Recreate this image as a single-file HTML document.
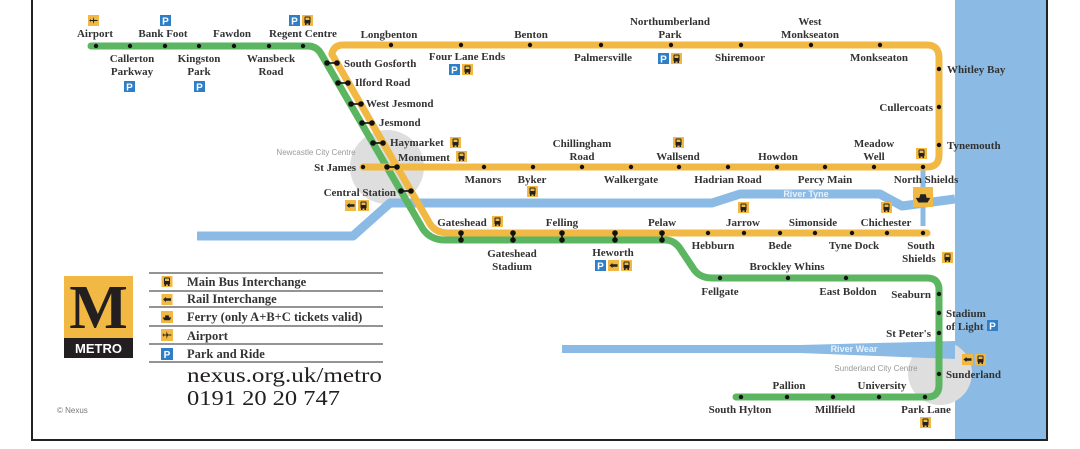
<!DOCTYPE html>
<html><head><meta charset="utf-8"><style>
html,body{margin:0;padding:0;background:#fff;}
svg{display:block;}
.t{font-family:"Liberation Serif","DejaVu Serif",serif;font-weight:bold;font-size:11px;fill:#333;}
.m{text-anchor:middle;}
.e{text-anchor:end;}
.g{font-family:"Liberation Sans",sans-serif;font-size:8px;fill:#999;text-anchor:middle;}
.w{font-family:"Liberation Sans",sans-serif;font-size:9px;fill:#e8f2fb;text-anchor:middle;font-weight:bold;}
.lg{font-family:"Liberation Serif","DejaVu Serif",serif;font-weight:bold;font-size:12.5px;fill:#333;}
</style></head><body>
<svg width="1080" height="449" viewBox="0 0 1080 449" xmlns="http://www.w3.org/2000/svg">
<defs>
<symbol id="bus" viewBox="0 0 11 11"><rect width="11" height="11" fill="#f2b844"/><rect x="2.5" y="1.5" width="6" height="7" rx="1" fill="#222"/><rect x="3.5" y="2.5" width="4" height="2.5" fill="#f2b844"/><rect x="3" y="8.5" width="1.5" height="1.5" fill="#222"/><rect x="6.5" y="8.5" width="1.5" height="1.5" fill="#222"/></symbol>
<symbol id="rail" viewBox="0 0 11 11"><rect width="11" height="11" fill="#f2b844"/><path d="M1.5 5.5 L4.5 3 V4.3 H9.5 V6.7 H4.5 V8 Z" fill="#222"/></symbol>
<symbol id="plane" viewBox="0 0 11 11"><rect width="11" height="11" fill="#f2b844"/><path d="M1.5 5 H9.5 V6 H1.5 Z M5 2 L6.5 5.5 L5 9 Z M2 3.5 L3 5.5 L2 7.5Z" fill="#222"/></symbol>
<symbol id="ferry" viewBox="0 0 11 11"><rect width="11" height="11" fill="#f2b844"/><path d="M1.5 6 H9.5 L8 8.5 H3 Z M4 4 H7 L7.5 6 H3.5 Z" fill="#222"/></symbol>
</defs>

<!-- sea and frame -->
<rect x="955" y="0" width="92" height="440" fill="#8bbbe5"/>
<path d="M32 0 V440 H1047 V0" fill="none" stroke="#222" stroke-width="2"/>

<!-- city centre circles -->
<circle cx="387" cy="167" r="37" fill="#dedede"/>
<circle cx="940" cy="373" r="32" fill="#dedede"/>

<!-- rivers -->
<path d="M197 236 H353 L390 203 H712 L740 194 H880 L902 206 L955 199" fill="none" stroke="#8bbbe5" stroke-width="9" stroke-linejoin="round"/>
<path d="M923 170 V226" stroke="#8bbbe5" stroke-width="5"/>
<path d="M562 345 L800 345 L955 341 L955 359 L800 353 L562 353 Z" fill="#8bbbe5"/>
<text class="w" x="806" y="197">River Tyne</text>
<text class="w" x="854" y="352">River Wear</text>
<text class="g" x="316" y="155">Newcastle City Centre</text>
<text class="g" x="876" y="371">Sunderland City Centre</text>

<!-- green line -->
<path d="M91 46 H308 Q316 46 320.6 53 L420.6 225 Q428 240 445 240 H665 Q675 240 681 250 L693 268 Q699 278 712 278 H927 Q939 278 939 290 V385 Q939 397 927 397 H736" fill="none" stroke="#5bb561" stroke-width="7" stroke-linecap="round" stroke-linejoin="round"/>
<!-- yellow line -->
<path d="M363 167 H927 Q939 167 939 155 V58 Q939 45 927 45 H343 Q334 45 331.8 54 L428.3 221 Q434 233 448 233 H927" fill="none" stroke="#f2b844" stroke-width="7" stroke-linecap="round" stroke-linejoin="round"/>

<!-- dots -->
<g fill="#111">
<circle cx="96" cy="46" r="2.2"/><circle cx="130" cy="46" r="2.2"/><circle cx="165" cy="46" r="2.2"/><circle cx="199" cy="46" r="2.2"/><circle cx="234" cy="46" r="2.2"/><circle cx="269" cy="46" r="2.2"/><circle cx="303" cy="46" r="2.2"/>
<circle cx="391" cy="45" r="2.2"/><circle cx="461" cy="45" r="2.2"/><circle cx="530" cy="45" r="2.2"/><circle cx="601" cy="45" r="2.2"/><circle cx="671" cy="45" r="2.2"/><circle cx="741" cy="45" r="2.2"/><circle cx="811" cy="45" r="2.2"/><circle cx="880" cy="45" r="2.2"/>
<circle cx="939" cy="69" r="2.2"/><circle cx="939" cy="107" r="2.2"/><circle cx="939" cy="145" r="2.2"/>
<circle cx="363" cy="167" r="2.2"/><circle cx="484" cy="167" r="2.2"/><circle cx="533" cy="167" r="2.2"/><circle cx="582" cy="167" r="2.2"/><circle cx="631" cy="167" r="2.2"/><circle cx="679" cy="167" r="2.2"/><circle cx="728" cy="167" r="2.2"/><circle cx="777" cy="167" r="2.2"/><circle cx="825" cy="167" r="2.2"/><circle cx="874" cy="167" r="2.2"/><circle cx="923" cy="167" r="2.2"/>
<circle cx="708" cy="233" r="2.2"/><circle cx="744" cy="233" r="2.2"/><circle cx="780" cy="233" r="2.2"/><circle cx="815" cy="233" r="2.2"/><circle cx="852" cy="233" r="2.2"/><circle cx="887" cy="233" r="2.2"/><circle cx="923" cy="233" r="2.2"/>
<circle cx="720" cy="278" r="2.2"/><circle cx="788" cy="278" r="2.2"/><circle cx="846" cy="278" r="2.2"/>
<circle cx="939" cy="294" r="2.2"/><circle cx="939" cy="313" r="2.2"/><circle cx="939" cy="333" r="2.2"/><circle cx="939" cy="374" r="2.2"/>
<circle cx="741" cy="397" r="2.2"/><circle cx="787" cy="397" r="2.2"/><circle cx="833" cy="397" r="2.2"/><circle cx="879" cy="397" r="2.2"/><circle cx="925" cy="397" r="2.2"/>
</g>
<!-- ties -->
<g stroke="#111" stroke-width="1.6" fill="#111">
<line x1="327" y1="63" x2="337" y2="63"/><circle cx="327" cy="63" r="2"/><circle cx="337" cy="63" r="2"/>
<line x1="338" y1="83" x2="348" y2="83"/><circle cx="338" cy="83" r="2"/><circle cx="348" cy="83" r="2"/>
<line x1="351" y1="104" x2="361" y2="104"/><circle cx="351" cy="104" r="2"/><circle cx="361" cy="104" r="2"/>
<line x1="362" y1="123" x2="372" y2="123"/><circle cx="362" cy="123" r="2"/><circle cx="372" cy="123" r="2"/>
<line x1="373" y1="143" x2="383" y2="143"/><circle cx="373" cy="143" r="2"/><circle cx="383" cy="143" r="2"/>
<line x1="387" y1="167" x2="397" y2="167"/><circle cx="387" cy="167" r="2"/><circle cx="397" cy="167" r="2"/>
<line x1="401" y1="191" x2="411" y2="191"/><circle cx="401" cy="191" r="2"/><circle cx="411" cy="191" r="2"/>
<line x1="461" y1="233" x2="461" y2="240"/><circle cx="461" cy="233" r="2"/><circle cx="461" cy="240" r="2"/>
<line x1="513" y1="233" x2="513" y2="240"/><circle cx="513" cy="233" r="2"/><circle cx="513" cy="240" r="2"/>
<line x1="562" y1="233" x2="562" y2="240"/><circle cx="562" cy="233" r="2"/><circle cx="562" cy="240" r="2"/>
<line x1="615" y1="233" x2="615" y2="240"/><circle cx="615" cy="233" r="2"/><circle cx="615" cy="240" r="2"/>
<line x1="662" y1="233" x2="662" y2="240"/><circle cx="662" cy="233" r="2"/><circle cx="662" cy="240" r="2"/>
</g>

<!-- icons -->
<use href="#plane" x="88" y="15" width="11" height="11"/>
<rect x="160" y="15" width="11" height="11" fill="#2f7fc7"/><text x="165.5" y="24.5" font-family="Liberation Sans,sans-serif" font-weight="bold" font-size="10" fill="#fff" text-anchor="middle">P</text>
<rect x="289" y="15" width="11" height="11" fill="#2f7fc7"/><text x="294.5" y="24.5" font-family="Liberation Sans,sans-serif" font-weight="bold" font-size="10" fill="#fff" text-anchor="middle">P</text>
<use href="#bus" x="302" y="15" width="11" height="11"/>
<rect x="124" y="81" width="11" height="11" fill="#2f7fc7"/><text x="129.5" y="90.5" font-family="Liberation Sans,sans-serif" font-weight="bold" font-size="10" fill="#fff" text-anchor="middle">P</text>
<rect x="194" y="81" width="11" height="11" fill="#2f7fc7"/><text x="199.5" y="90.5" font-family="Liberation Sans,sans-serif" font-weight="bold" font-size="10" fill="#fff" text-anchor="middle">P</text>
<rect x="449" y="64" width="11" height="11" fill="#2f7fc7"/><text x="454.5" y="73.5" font-family="Liberation Sans,sans-serif" font-weight="bold" font-size="10" fill="#fff" text-anchor="middle">P</text>
<use href="#bus" x="462" y="64" width="11" height="11"/>
<rect x="658" y="53" width="11" height="11" fill="#2f7fc7"/><text x="663.5" y="62.5" font-family="Liberation Sans,sans-serif" font-weight="bold" font-size="10" fill="#fff" text-anchor="middle">P</text>
<use href="#bus" x="671" y="53" width="11" height="11"/>
<use href="#bus" x="450" y="137" width="11" height="11"/>
<use href="#bus" x="456" y="151" width="11" height="11"/>
<use href="#rail" x="345" y="200" width="11" height="11"/>
<use href="#bus" x="358" y="200" width="11" height="11"/>
<use href="#bus" x="527" y="186" width="11" height="11"/>
<use href="#bus" x="673" y="137" width="11" height="11"/>
<use href="#bus" x="916" y="148" width="11" height="11"/>
<use href="#ferry" x="913" y="187" width="20" height="20"/>
<use href="#bus" x="492" y="216" width="11" height="11"/>
<use href="#bus" x="738" y="202" width="11" height="11"/>
<use href="#bus" x="881" y="202" width="11" height="11"/>
<rect x="595" y="260" width="11" height="11" fill="#2f7fc7"/><text x="600.5" y="269.5" font-family="Liberation Sans,sans-serif" font-weight="bold" font-size="10" fill="#fff" text-anchor="middle">P</text>
<use href="#rail" x="608" y="260" width="11" height="11"/>
<use href="#bus" x="621" y="260" width="11" height="11"/>
<use href="#bus" x="942" y="252" width="11" height="11"/>
<rect x="987" y="320" width="11" height="11" fill="#2f7fc7"/><text x="992.5" y="329.5" font-family="Liberation Sans,sans-serif" font-weight="bold" font-size="10" fill="#fff" text-anchor="middle">P</text>
<use href="#rail" x="962" y="354" width="11" height="11"/>
<use href="#bus" x="975" y="354" width="11" height="11"/>
<use href="#bus" x="920" y="417" width="11" height="11"/>

<!-- labels -->
<g class="t">
<text class="m" x="95" y="37">Airport</text>
<text class="m" x="163" y="37">Bank Foot</text>
<text class="m" x="232" y="37">Fawdon</text>
<text class="m" x="303" y="37">Regent Centre</text>
<text class="m" x="132" y="62">Callerton</text><text class="m" x="132" y="75">Parkway</text>
<text class="m" x="199" y="62">Kingston</text><text class="m" x="199" y="75">Park</text>
<text class="m" x="271" y="62">Wansbeck</text><text class="m" x="271" y="75">Road</text>
<text x="344" y="67">South Gosforth</text>
<text x="355" y="86">Ilford Road</text>
<text x="366" y="107">West Jesmond</text>
<text x="379" y="126">Jesmond</text>
<text x="390" y="146">Haymarket</text>
<text x="398" y="161">Monument</text>
<text class="e" x="356" y="171">St James</text>
<text class="e" x="396" y="196">Central Station</text>
<text class="m" x="389" y="38">Longbenton</text>
<text class="m" x="467" y="60">Four Lane Ends</text>
<text class="m" x="531" y="38">Benton</text>
<text class="m" x="603" y="61">Palmersville</text>
<text class="m" x="670" y="25">Northumberland</text><text class="m" x="670" y="38">Park</text>
<text class="m" x="740" y="61">Shiremoor</text>
<text class="m" x="810" y="25">West</text><text class="m" x="810" y="38">Monkseaton</text>
<text class="m" x="879" y="61">Monkseaton</text>
<text x="947" y="73">Whitley Bay</text>
<text class="e" x="933" y="111">Cullercoats</text>
<text x="947" y="149">Tynemouth</text>
<text class="m" x="483" y="183">Manors</text>
<text class="m" x="532" y="183">Byker</text>
<text class="m" x="582" y="147">Chillingham</text><text class="m" x="582" y="160">Road</text>
<text class="m" x="631" y="183">Walkergate</text>
<text class="m" x="678" y="160">Wallsend</text>
<text class="m" x="728" y="183">Hadrian Road</text>
<text class="m" x="778" y="160">Howdon</text>
<text class="m" x="825" y="183">Percy Main</text>
<text class="m" x="874" y="147">Meadow</text><text class="m" x="874" y="160">Well</text>
<text class="m" x="926" y="183">North Shields</text>
<text class="m" x="462" y="226">Gateshead</text>
<text class="m" x="512" y="257">Gateshead</text><text class="m" x="512" y="270">Stadium</text>
<text class="m" x="562" y="226">Felling</text>
<text class="m" x="613" y="256">Heworth</text>
<text class="m" x="662" y="226">Pelaw</text>
<text class="m" x="713" y="249">Hebburn</text>
<text class="m" x="743" y="226">Jarrow</text>
<text class="m" x="780" y="249">Bede</text>
<text class="m" x="813" y="226">Simonside</text>
<text class="m" x="854" y="249">Tyne Dock</text>
<text class="m" x="886" y="226">Chichester</text>
<text class="m" x="921" y="249">South</text><text class="m" x="919" y="262">Shields</text>
<text class="m" x="787" y="270">Brockley Whins</text>
<text class="m" x="720" y="295">Fellgate</text>
<text class="m" x="848" y="295">East Boldon</text>
<text class="e" x="931" y="298">Seaburn</text>
<text x="946" y="317">Stadium</text><text x="946" y="330">of Light</text>
<text class="e" x="931" y="337">St Peter's</text>
<text x="946" y="378">Sunderland</text>
<text class="m" x="789" y="389">Pallion</text>
<text class="m" x="882" y="389">University</text>
<text class="m" x="740" y="413">South Hylton</text>
<text class="m" x="835" y="413">Millfield</text>
<text class="m" x="926" y="413">Park Lane</text>
</g>

<!-- logo -->
<rect x="64" y="276" width="69" height="62" fill="#f2b844"/>
<rect x="64" y="338" width="69" height="20" fill="#231f20"/>
<text x="98.5" y="328" font-family="Liberation Serif,serif" font-weight="bold" font-size="62" fill="#231f20" text-anchor="middle">M</text>
<text x="98.5" y="353" font-family="Liberation Sans,sans-serif" font-weight="bold" font-size="13" fill="#fff" text-anchor="middle">METRO</text>

<!-- legend -->
<g stroke="#555" stroke-width="1.2">
<line x1="149" y1="273" x2="383" y2="273"/><line x1="149" y1="291" x2="383" y2="291"/><line x1="149" y1="307" x2="383" y2="307"/><line x1="149" y1="326" x2="383" y2="326"/><line x1="149" y1="344" x2="383" y2="344"/><line x1="149" y1="362" x2="383" y2="362"/>
</g>
<use href="#bus" x="161" y="276" width="12" height="11"/>
<use href="#rail" x="161" y="294" width="12" height="11"/>
<use href="#ferry" x="161" y="311" width="12" height="12"/>
<use href="#plane" x="161" y="329" width="12" height="12"/>
<rect x="161" y="348" width="12" height="12" fill="#2f7fc7"/><text x="167" y="358" font-family="Liberation Sans,sans-serif" font-weight="bold" font-size="10" fill="#fff" text-anchor="middle">P</text>
<g class="lg">
<text x="187" y="286">Main Bus Interchange</text>
<text x="187" y="303">Rail Interchange</text>
<text x="187" y="321">Ferry (only A+B+C tickets valid)</text>
<text x="187" y="340">Airport</text>
<text x="187" y="358">Park and Ride</text>
</g>
<text x="187" y="382" font-family="Liberation Serif,serif" font-size="21" fill="#231f20" textLength="195" lengthAdjust="spacingAndGlyphs">nexus.org.uk/metro</text>
<text x="187" y="405" font-family="Liberation Serif,serif" font-size="21" fill="#231f20" textLength="153" lengthAdjust="spacingAndGlyphs">0191 20 20 747</text>
<text x="57" y="413" font-family="Liberation Sans,sans-serif" font-size="8" fill="#777">© Nexus</text>
</svg>
</body></html>
